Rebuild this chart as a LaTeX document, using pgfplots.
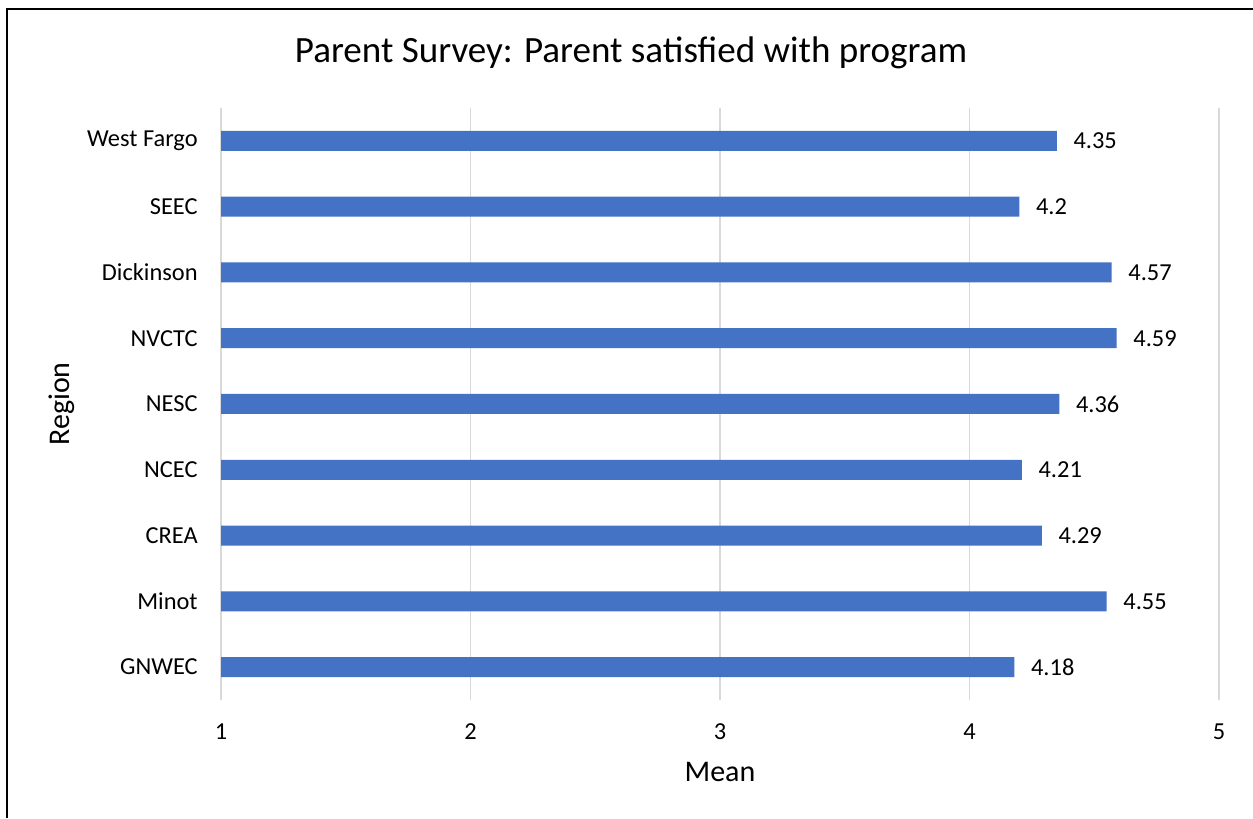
\documentclass[border=0pt]{standalone}
\usepackage{pgfplots}
\pgfplotsset{compat=1.18}
\usepackage{fontspec}
\setmainfont{Carlito}
\definecolor{barblue}{HTML}{4472C4}
\definecolor{gridgray}{HTML}{D9D9D9}
\definecolor{txt}{HTML}{000000}
\begin{document}
\begin{tikzpicture}
\useasboundingbox (0pt,0pt) rectangle (939.75pt,613.5pt);
\draw[line width=1.5pt] (5.25pt,0pt) -- (5.25pt,606.75pt) -- (939.75pt,606.75pt);
\begin{axis}[
  at={(165.75pt,88.5pt)}, anchor=south west,
  scale only axis, width=748.5pt, height=444pt,
  xbar, bar width=15pt,
  xmin=1, xmax=5, ymin=-0.5, ymax=8.5,
  xtick={1,2,3,4,5},
  ytick={0,...,8},
  yticklabels={GNWEC,Minot,CREA,NCEC,NESC,NVCTC,Dickinson,SEEC,West Fargo},
  xmajorgrids, grid style={gridgray, line width=1.2pt},
  axis line style={draw=none},
  major tick length=0pt,
  /pgf/number format/assume math mode=true,
  tick label style={font=\fontsize{18.3}{21}\selectfont, text=txt},
  yticklabel style={anchor=east, xshift=-14pt},
  xticklabel style={anchor=center, yshift=-24pt},
  nodes near coords,
  every node near coord/.append style={font=\fontsize{18.3}{21}\selectfont, anchor=west, xshift=9pt, text=txt},
  point meta=explicit symbolic,
]
\addplot[fill=barblue, draw=none] table[meta=l] {
x y l
4.18 0 4.18
4.55 1 4.55
4.29 2 4.29
4.21 3 4.21
4.36 4 4.36
4.59 5 4.59
4.57 6 4.57
4.2 7 4.2
4.35 8 4.35
};
\end{axis}
\node[font=\fontsize{27.8}{32}\selectfont, text=txt] at (473.25pt,573.75pt) {Parent Survey: Parent satisfied with program};
\node[font=\fontsize{22.5}{26}\selectfont, text=txt] at (540pt,34.5pt) {Mean};
\node[font=\fontsize{22.5}{26}\selectfont, text=txt, rotate=90] at (46.5pt,310.5pt) {Region};
\end{tikzpicture}
\end{document}
